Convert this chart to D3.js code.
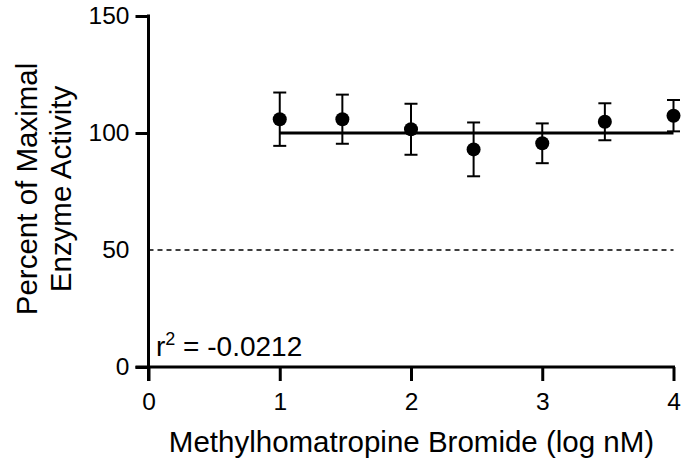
<!DOCTYPE html>
<html>
<head>
<meta charset="utf-8">
<script src="https://cdn.jsdelivr.net/npm/d3@7"></script>
<style>
  html, body { margin: 0; padding: 0; background: #fff; }
  svg { display: block; font-family: "Liberation Sans", Arial, sans-serif; }
</style>
</head>
<body>
<svg id="chart" width="699" height="465"></svg>
<script>
// Concentration-response data (log nM) with mean ± error
const logConc = [1, 1.477, 2, 2.477, 3, 3.477, 4];
const meanActivity = [105.9, 105.9, 101.6, 93.0, 95.6, 104.8, 107.4];
const errActivity = [11.4, 10.5, 10.9, 11.5, 8.5, 7.9, 6.7];

// Fitted line (flat) and half-maximal reference
const fitX = [1, 4];
const fitY = [100, 100];
const refX = [0, 4];
const refY = [50, 50];

const xTicks = [0, 1, 2, 3, 4];
const yTicks = [0, 50, 100, 150];
const yTicksWithMark = [0, 100, 150];
const r2Label = "-0.0212";

const svg = d3.select("#chart");
const x = d3.scaleLinear().domain([0, 4]).range([148.5, 673.5]);
const y = d3.scaleLinear().domain([0, 150]).range([367, 16]);

// Axes
const xAxis = svg.append("g")
  .attr("transform", `translate(0,${y(0)})`)
  .call(d3.axisBottom(x).tickValues(xTicks).tickFormat(d3.format("d")).tickSize(14).tickSizeOuter(0).tickPadding(12));
const yAxis = svg.append("g")
  .attr("transform", `translate(${x(0)},0)`)
  .call(d3.axisLeft(y).tickValues(yTicks).tickFormat(d3.format("d")).tickSize(13).tickSizeOuter(0).tickPadding(6));

[xAxis, yAxis].forEach(g => {
  g.select(".domain").attr("stroke", "#000").attr("stroke-width", 3);
  g.selectAll(".tick line").attr("stroke", "#000").attr("stroke-width", 3);
  g.selectAll(".tick text").attr("fill", "#000").style("font-size", "24.5px")
    .style("font-family", "'Liberation Sans', Arial, sans-serif");
});
yAxis.selectAll(".tick").filter(d => !yTicksWithMark.includes(d)).select("line").remove();
// extend axis lines to meet outer tick ends
xAxis.select(".domain").attr("d", `M${x(0) - 13},0H${x(4) + 1.5}`);
yAxis.select(".domain").attr("d", `M0,${y(0) + 14}V${y(150) - 1.5}`);

// Half-maximal dashed reference
svg.append("line")
  .attr("x1", x(refX[0])).attr("x2", x(refX[1]))
  .attr("y1", y(refY[0])).attr("y2", y(refY[1]))
  .attr("stroke", "#000").attr("stroke-width", 1.5)
  .attr("stroke-dasharray", "5,4");

// Fit line
svg.append("line")
  .attr("x1", x(fitX[0])).attr("x2", x(fitX[1]))
  .attr("y1", y(fitY[0])).attr("y2", y(fitY[1]))
  .attr("stroke", "#000").attr("stroke-width", 3.2);

// Error bars
const pts = logConc.map((c, i) => ({ c, m: meanActivity[i], e: errActivity[i] }));
const eb = svg.append("g").attr("stroke", "#000").attr("stroke-width", 2);
pts.forEach(p => {
  eb.append("line").attr("x1", x(p.c)).attr("x2", x(p.c)).attr("y1", y(p.m - p.e)).attr("y2", y(p.m + p.e));
  [p.m - p.e, p.m + p.e].forEach(v => {
    eb.append("line").attr("x1", x(p.c) - 6.5).attr("x2", x(p.c) + 6.5).attr("y1", y(v)).attr("y2", y(v));
  });
});

// Points
svg.append("g").selectAll("circle").data(pts).join("circle")
  .attr("cx", d => x(d.c)).attr("cy", d => y(d.m)).attr("r", 7).attr("fill", "#000");

// Axis titles
svg.append("text")
  .attr("x", 411.5).attr("y", 452)
  .attr("text-anchor", "middle").style("font-size", "29.5px")
  .text("Methylhomatropine Bromide (log nM)");

const yl = svg.append("text")
  .attr("transform", "translate(37,189) rotate(-90)")
  .attr("text-anchor", "middle").style("font-size", "29.5px");
yl.append("tspan").attr("x", 0).attr("y", 0).text("Percent of Maximal");
yl.append("tspan").attr("x", 0).attr("y", 34).text("Enzyme Activity");

// r² annotation
const r2 = svg.append("text").attr("x", 156).attr("y", 356).style("font-size", "28px");
r2.append("tspan").text("r");
r2.append("tspan").attr("dy", -11).style("font-size", "18px").text("2");
r2.append("tspan").attr("dy", 11).text(" = " + r2Label);
</script>
</body>
</html>
